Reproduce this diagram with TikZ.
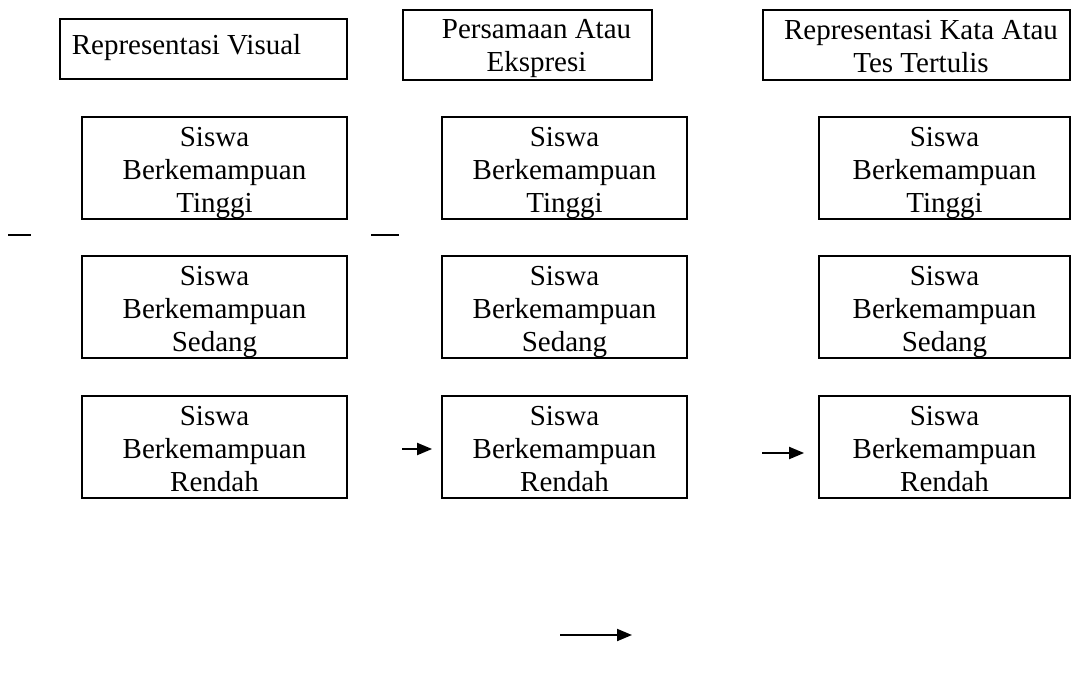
\documentclass[tikz,border=0pt]{standalone}
\usepackage{fontspec}
\setmainfont{Liberation Serif}
\usetikzlibrary{arrows.meta}
\newcommand\celltext[1]{\rule{0pt}{29pt}Siswa\\Berkemampuan\\#1\rule[-7pt]{0pt}{7pt}}
\begin{document}
\begin{tikzpicture}[x=1pt,y=-1pt,
  cell/.style={draw, line width=1.8pt, inner sep=0pt, align=center,
    font=\fontsize{29}{33}\selectfont, minimum height=102pt},
  head/.style={draw, line width=1.8pt, inner sep=0pt},
  txt/.style={inner sep=0pt, align=center, font=\fontsize{29}{33}\selectfont},
  arr/.style={line width=2pt, -{Triangle[length=15pt,width=12pt]}},
  tick/.style={line width=2pt}]
\useasboundingbox (0,0) rectangle (1075,675);
% header boxes
\node[head, minimum width=287pt, minimum height=60pt] (hA) at (203.5,49) {};
\node[head, minimum width=249pt, minimum height=70pt] (hB) at (527.5,45) {};
\node[head, minimum width=307pt, minimum height=70pt] (hC) at (916.5,45) {};
\node[txt, xshift=-17pt, yshift=1.6pt] (tA) at (hA.center) {\strut Representasi Visual};
\node[txt, xshift=9pt, yshift=-2.9pt] (tB) at (hB.center) {\strut Persamaan Atau\\Ekspresi\strut};
\node[txt, xshift=4.5pt, yshift=-3.9pt] (tC) at (hC.center) {\strut Representasi Kata Atau\\Tes Tertulis\strut};
% column 1
\node[cell, minimum width=265pt] (a1) at (214.5,168) {\celltext{Tinggi}};
\node[cell, minimum width=265pt] (a2) at (214.5,307) {\celltext{Sedang}};
\node[cell, minimum width=265pt] (a3) at (214.5,447) {\celltext{Rendah}};
% column 2
\node[cell, minimum width=245pt] (b1) at (564.5,168) {\celltext{Tinggi}};
\node[cell, minimum width=245pt] (b2) at (564.5,307) {\celltext{Sedang}};
\node[cell, minimum width=245pt] (b3) at (564.5,447) {\celltext{Rendah}};
% column 3
\node[cell, minimum width=251pt] (c1) at (944.5,168) {\celltext{Tinggi}};
\node[cell, minimum width=251pt] (c2) at (944.5,307) {\celltext{Sedang}};
\node[cell, minimum width=251pt] (c3) at (944.5,447) {\celltext{Rendah}};
% small dashes
\coordinate (d1a) at (8,235);
\coordinate (d1b) at (31,235);
\coordinate (d2a) at (371,235);
\coordinate (d2b) at (399,235);
\draw[tick] (d1a) -- (d1b);
\draw[tick] (d2a) -- (d2b);
% arrows
\coordinate (s2) at (402,449);
\coordinate (s3) at (762,453);
\draw[arr, shorten >=9pt] (s2) -- (b3.west |- s2);
\draw[arr, shorten >=14pt] (s3) -- (c3.west |- s3);
\coordinate (p1) at (560,635);
\coordinate (p2) at (632,635);
\draw[arr] (p1) -- (p2);
\end{tikzpicture}
\end{document}
